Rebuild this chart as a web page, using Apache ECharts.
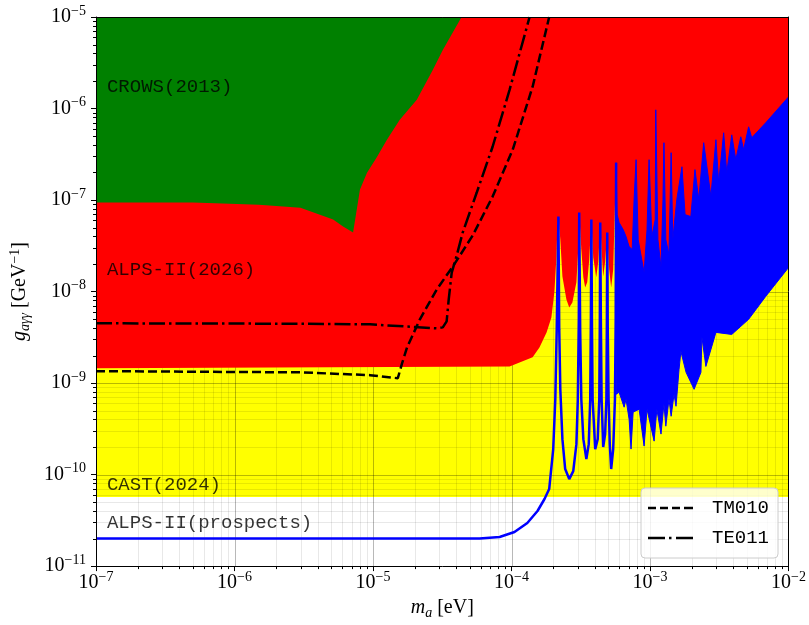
<!DOCTYPE html>
<html>
<head>
<meta charset="utf-8">
<script src="https://cdn.jsdelivr.net/npm/echarts@6.0.0/dist/echarts.min.js"></script>
<style>
html, body {margin: 0; padding: 0; background: #fff;}
#chart {width: 809px; height: 625px;}
</style>
</head>
<body>
<div id="chart"></div>
<script>
// axis ticks
var xTicks = [1e-7, 1e-6, 1e-5, 1e-4, 1e-3, 1e-2];
var yTicks = [1e-11, 1e-10, 1e-9, 1e-8, 1e-7, 1e-6, 1e-5];
var minorSteps = [2, 3, 4, 5, 6, 7, 8, 9];

// CAST(2024) limit
var castLimit = [[1e-7, 5.7e-11], [1e-2, 5.7e-11]];

// CROWS(2013) lower edge
var crowsLow = [[1e-7, 9.4e-8], [5e-7, 9.4e-8], [1.5e-6, 8.9e-8], [2.99e-6, 8.26e-8], [5.15e-6, 6.11e-8],
    [6.08e-6, 5.13e-8], [7.18e-6, 4.41e-8], [8.05e-6, 1.30e-7], [9.05e-6, 1.99e-7], [1.07e-5, 2.97e-7],
    [1.26e-5, 4.56e-7], [1.56e-5, 7.53e-7], [2.07e-5, 1.25e-6], [2.70e-5, 2.64e-6], [3.19e-5, 4.37e-6],
    [4.36e-5, 1e-5]];

// ALPS-II(2026) lower edge
var alpsLow = [[1e-7, 1.45e-9], [9.68e-5, 1.52e-9], [1.42e-4, 1.91e-9], [1.59e-4, 2.45e-9], [1.79e-4, 3.58e-9],
    [1.94e-4, 5.22e-9], [2.04e-4, 1.0e-8], [2.11e-4, 2.42e-8], [2.14e-4, 4.75e-8], [2.18e-4, 6.59e-8],
    [2.25e-4, 3.70e-8], [2.33e-4, 1.46e-8], [2.49e-4, 8.20e-9], [2.61e-4, 6.71e-9], [2.75e-4, 7.60e-9],
    [2.94e-4, 1.26e-8], [3.03e-4, 2.88e-8], [3.08e-4, 7.29e-8], [3.19e-4, 2.88e-8], [3.30e-4, 1.43e-8],
    [3.40e-4, 1.11e-8], [3.52e-4, 1.26e-8], [3.64e-4, 2.24e-8], [3.77e-4, 6.11e-8], [3.89e-4, 2.36e-8],
    [4.09e-4, 1.43e-8], [4.23e-4, 2.13e-8], [4.37e-4, 5.67e-8], [4.52e-4, 2.13e-8], [4.59e-4, 1.46e-8],
    [4.74e-4, 2.13e-8], [4.91e-4, 4.41e-8], [5.07e-4, 1.74e-8], [5.24e-4, 1.11e-8], [5.42e-4, 1.74e-8],
    [5.69e-4, 2.56e-7], [5.79e-4, 4.97e-9], [9.06e-4, 3.86e-9], [1.62e-3, 1.05e-8], [2.25e-3, 1.19e-8],
    [4.37e-3, 2.88e-8], [1e-2, 1.01e-7]];

// ALPS-II(prospects) curve, resolved resonances
var alpsProspect = [[1e-7, 2.0e-11], [5.89e-5, 2.0e-11], [8.20e-5, 2.08e-11], [1.05e-4, 2.36e-11], [1.30e-4, 2.96e-11],
    [1.54e-4, 4.0e-11], [1.73e-4, 5.41e-11], [1.87e-4, 6.95e-11], [2.00e-4, 1.90e-10], [2.07e-4, 6.65e-10],
    [2.12e-4, 3.86e-9], [2.18e-4, 6.59e-8], [2.21e-4, 3.86e-9], [2.25e-4, 8.55e-10], [2.33e-4, 2.44e-10],
    [2.44e-4, 1.15e-10], [2.61e-4, 8.93e-11], [2.79e-4, 1.09e-10], [2.94e-4, 2.15e-10], [3.01e-4, 6.65e-10],
    [3.06e-4, 4.97e-9], [3.08e-4, 7.29e-8], [3.13e-4, 3.86e-9], [3.19e-4, 6.65e-10], [3.30e-4, 2.44e-10],
    [3.47e-4, 1.48e-10], [3.61e-4, 2.15e-10], [3.70e-4, 6.65e-10], [3.74e-4, 4.97e-9], [3.77e-4, 6.11e-8],
    [3.81e-4, 3.86e-9], [3.85e-4, 6.65e-10], [4.02e-4, 1.90e-10], [4.19e-4, 2.44e-10], [4.30e-4, 6.65e-10],
    [4.34e-4, 4.97e-9], [4.37e-4, 5.67e-8], [4.42e-4, 3.86e-9], [4.47e-4, 6.65e-10], [4.59e-4, 2.0e-10],
    [4.74e-4, 2.77e-10], [4.84e-4, 6.65e-10], [4.88e-4, 4.97e-9], [4.91e-4, 4.41e-8], [4.95e-4, 3.86e-9],
    [5.02e-4, 6.65e-10], [5.12e-4, 2.15e-10], [5.24e-4, 1.15e-10], [5.42e-4, 1.90e-10], [5.58e-4, 6.65e-10],
    [5.65e-4, 4.97e-9], [5.69e-4, 2.56e-7]];

// ALPS-II(prospects), dense resonance band: upper and lower envelope
var denseTop = [[5.69e-4, 2.56e-7], [5.79e-4, 6.93e-8], [5.98e-4, 5.67e-8], [6.40e-4, 4.75e-8], [6.71e-4, 3.99e-8],
    [7.06e-4, 3.10e-8], [7.43e-4, 2.88e-8], [7.67e-4, 1.01e-7], [7.93e-4, 2.76e-7], [8.21e-4, 3.70e-8],
    [9.06e-4, 1.61e-8], [9.51e-4, 4.75e-8], [9.84e-4, 2.76e-7], [1.03e-3, 3.99e-8], [1.09e-3, 6.11e-8],
    [1.10e-3, 9.68e-7], [1.14e-3, 3.70e-8], [1.20e-3, 1.83e-8], [1.24e-3, 1.01e-7], [1.26e-3, 4.23e-7],
    [1.30e-3, 3.70e-8], [1.37e-3, 2.54e-8], [1.42e-3, 3.29e-7], [1.46e-3, 3.70e-8], [1.56e-3, 1.01e-7],
    [1.70e-3, 2.31e-7], [1.79e-3, 6.93e-8], [1.97e-3, 6.59e-8], [2.11e-3, 2.15e-7], [2.25e-3, 1.01e-7],
    [2.44e-3, 4.23e-7], [2.75e-3, 1.09e-7], [2.99e-3, 4.56e-7], [3.13e-3, 1.55e-7], [3.40e-3, 5.43e-7],
    [3.58e-3, 1.99e-7], [3.89e-3, 5.16e-7], [4.16e-3, 2.76e-7], [4.52e-3, 4.91e-7], [4.74e-3, 3.55e-7],
    [5.15e-3, 6.31e-7], [5.42e-3, 4.79e-7], [6.84e-3, 6.98e-7], [1e-2, 1.34e-6]];
var denseBottom = [[5.69e-4, 7.55e-10], [5.98e-4, 7.94e-10], [6.50e-4, 5.45e-10], [6.71e-4, 6.65e-10], [7.06e-4, 4.03e-10],
    [7.29e-4, 1.90e-10], [7.55e-4, 4.81e-10], [8.34e-4, 5.18e-10], [9.06e-4, 2.05e-10], [9.51e-4, 5.18e-10],
    [1.07e-3, 2.32e-10], [1.12e-3, 5.18e-10], [1.20e-3, 2.77e-10], [1.26e-3, 5.87e-10], [1.30e-3, 3.38e-10],
    [1.37e-3, 6.65e-10], [1.42e-3, 4.34e-10], [1.49e-3, 7.55e-10], [1.54e-3, 5.58e-10], [1.62e-3, 1.41e-9],
    [1.67e-3, 2.22e-9], [1.82e-3, 1.31e-9], [2.08e-3, 8.55e-10], [2.33e-3, 1.31e-9], [2.37e-3, 3.16e-9],
    [2.53e-3, 1.52e-9], [2.99e-3, 3.58e-9], [3.89e-3, 3.40e-9], [5.15e-3, 4.97e-9], [6.84e-3, 8.85e-9],
    [1e-2, 1.83e-8]];

// cavity modes
var tm010 = [[1e-7, 1.35e-9], [2.99e-6, 1.31e-9], [9.51e-6, 1.22e-9], [1.51e-5, 1.13e-9], [1.62e-5, 1.64e-9],
    [1.76e-5, 2.45e-9], [2.18e-5, 4.97e-9], [2.88e-5, 1.05e-8], [3.77e-5, 1.88e-8], [5.24e-5, 4.09e-8],
    [7.30e-5, 1.09e-7], [1.02e-4, 3.55e-7], [1.42e-4, 1.73e-6], [1.87e-4, 1e-5]];
var te011 = [[1e-7, 4.5e-9], [2.99e-6, 4.45e-9], [9.51e-6, 4.38e-9], [2.88e-5, 3.96e-9], [3.19e-5, 4.06e-9],
    [3.40e-5, 4.72e-9], [3.52e-5, 8.20e-9], [3.70e-5, 1.61e-8], [4.02e-5, 2.48e-8], [4.44e-5, 4.41e-8],
    [5.60e-5, 1.20e-7], [7.30e-5, 3.82e-7], [9.68e-5, 1.60e-6], [1.35e-4, 1e-5]];

var regionLabels = [
    {name: 'CROWS(2013)', value: [1.2e-7, 1.73e-6]},
    {name: 'ALPS-II(2026)', value: [1.2e-7, 1.7e-8]},
    {name: 'CAST(2024)', value: [1.2e-7, 7.7e-11]},
    {name: 'ALPS-II(prospects)', value: [1.2e-7, 2.96e-11]}
];

var xMin = xTicks[0], xMax = xTicks[xTicks.length - 1];
var yMin = yTicks[0], yMax = yTicks[yTicks.length - 1];

// grid lines (major flag in 3rd slot)
var vGrid = [], hGrid = [];
xTicks.forEach(function (d, i) {
    vGrid.push([d, yMin, 1]);
    if (i < xTicks.length - 1) minorSteps.forEach(function (m) { vGrid.push([m * d, yMin, 0]); });
});
yTicks.forEach(function (d, i) {
    hGrid.push([xMin, d, 1]);
    if (i < yTicks.length - 1) minorSteps.forEach(function (m) { hGrid.push([xMin, m * d, 0]); });
});

var serif = 'Liberation Serif';
var mono = 'Liberation Mono';

function powLabel(v) {
    var e = Math.round(Math.log10(v));
    return '{b|10}{e|' + (e < 0 ? '\u2212' : '') + Math.abs(e) + '}';
}
var powRich = {
    b: {fontFamily: serif, fontSize: 20, color: '#000', verticalAlign: 'middle'},
    e: {fontFamily: serif, fontSize: 14, color: '#000', verticalAlign: 'middle', padding: [0, 0, 12, 0]}
};

function gridItem(vertical) {
    return function (params, api) {
        var p0, p1;
        if (vertical) {
            p0 = api.coord([api.value(0), yMin]);
            p1 = api.coord([api.value(0), yMax]);
            p0[0] = p1[0] = Math.round(p0[0]) + 0.5;
        } else {
            p0 = api.coord([xMin, api.value(1)]);
            p1 = api.coord([xMax, api.value(1)]);
            p0[1] = p1[1] = Math.round(p0[1]) + 0.5;
        }
        return {type: 'line', shape: {x1: p0[0], y1: p0[1], x2: p1[0], y2: p1[1]},
            style: {stroke: api.value(2) ? 'rgba(0,0,0,0.28)' : 'rgba(0,0,0,0.09)', lineWidth: 1}};
    };
}

function minorTick(vertical) {
    return function (params, api) {
        if (api.value(2)) return null;
        var p;
        if (vertical) {
            p = api.coord([api.value(0), yMin]);
            var x = Math.round(p[0]) + 0.5;
            return {type: 'line', shape: {x1: x, y1: p[1], x2: x, y2: p[1] + 3}, style: {stroke: '#000', lineWidth: 1}};
        }
        p = api.coord([xMin, api.value(1)]);
        var y = Math.round(p[1]) + 0.5;
        return {type: 'line', shape: {x1: p[0] - 3, y1: y, x2: p[0], y2: y}, style: {stroke: '#000', lineWidth: 1}};
    };
}

var chart = echarts.init(document.getElementById('chart'));

var option = {
    animation: false,
    backgroundColor: '#fff',
    grid: {left: 95, right: 20, top: 17, bottom: 57},
    legend: {
        data: [
            {name: 'TM010', icon: 'path://M0,0h8v2.5h-8z M12,0h8v2.5h-8z M24,0h8v2.5h-8z M36,0h9v2.5h-9z'},
            {name: 'TE011', icon: 'path://M0,0h17v2.5h-17z M21,0h2.5v2.5h-2.5z M28,0h17v2.5h-17z'}
        ],
        orient: 'vertical', left: 641, top: 488, z: 20, symbolKeepAspect: false,
        padding: [10, 9, 10, 7], itemWidth: 45, itemHeight: 2.5, itemGap: 10,
        itemStyle: {color: '#000', borderWidth: 0},
        backgroundColor: 'rgba(255,255,255,0.8)', borderColor: '#cccccc', borderWidth: 1, borderRadius: 4,
        textStyle: {fontFamily: mono, fontSize: 19, color: '#000', lineHeight: 20, height: 20, padding: [0, 0, 0, 14]}
    },
    xAxis: [{
        type: 'log', logBase: 10, min: xMin, max: xMax, z: 10,
        name: '{i|m}{s|a}{n| [eV]}', nameLocation: 'middle', nameGap: 26,
        nameTextStyle: {rich: {
            i: {fontFamily: serif, fontStyle: 'italic', fontSize: 20, color: '#000'},
            s: {fontFamily: serif, fontStyle: 'italic', fontSize: 14, color: '#000', padding: [10, 0, 0, 0]},
            n: {fontFamily: serif, fontSize: 20, color: '#000'}
        }},
        axisLine: {lineStyle: {color: '#000', width: 1}},
        axisTick: {show: true, length: 5, lineStyle: {color: '#000'}},
        axisLabel: {margin: 4, formatter: powLabel, rich: powRich},
        splitLine: {show: false}
    }, {
        type: 'log', logBase: 10, min: xMin, max: xMax, position: 'top', z: 10,
        axisLine: {show: true, onZero: false, lineStyle: {color: '#000', width: 1}},
        axisTick: {show: false}, axisLabel: {show: false}, splitLine: {show: false}
    }],
    yAxis: [{
        type: 'log', logBase: 10, min: yMin, max: yMax, z: 10,
        name: '{i|g}{s|a\u03b3\u03b3}{n| [GeV}{p|\u22121}{n|]}', nameLocation: 'middle', nameGap: 64, nameRotate: 90,
        nameTextStyle: {rich: {
            i: {fontFamily: serif, fontStyle: 'italic', fontSize: 20, color: '#000'},
            s: {fontFamily: serif, fontStyle: 'italic', fontSize: 14, color: '#000', padding: [10, 0, 0, 0]},
            n: {fontFamily: serif, fontSize: 20, color: '#000'},
            p: {fontFamily: serif, fontSize: 14, color: '#000', padding: [0, 0, 10, 0]}
        }},
        axisLine: {show: true, lineStyle: {color: '#000', width: 1}},
        axisTick: {show: true, length: 5, lineStyle: {color: '#000'}},
        axisLabel: {margin: 10, formatter: powLabel, rich: powRich},
        splitLine: {show: false}
    }, {
        type: 'log', logBase: 10, min: yMin, max: yMax, position: 'right', z: 10,
        axisLine: {show: true, onZero: false, lineStyle: {color: '#000', width: 1}},
        axisTick: {show: false}, axisLabel: {show: false}, splitLine: {show: false}
    }],
    series: [
        {name: 'CAST(2024)', type: 'line', data: castLimit, symbol: 'none', silent: true, z: 1,
            lineStyle: {width: 0}, areaStyle: {color: '#ffff00', opacity: 1, origin: 'end'}},
        {type: 'custom', data: vGrid, renderItem: gridItem(true), silent: true, z: 2, clip: true},
        {type: 'custom', data: hGrid, renderItem: gridItem(false), silent: true, z: 2, clip: true},
        {name: 'ALPS-II(2026)', type: 'line', data: alpsLow, symbol: 'none', silent: true, z: 3,
            lineStyle: {width: 0}, areaStyle: {color: '#ff0000', opacity: 1, origin: 'end'}},
        {name: 'CROWS(2013)', type: 'line', data: crowsLow, symbol: 'none', silent: true, z: 4,
            lineStyle: {width: 0}, areaStyle: {color: '#008000', opacity: 1, origin: 'end'}},
        {type: 'custom', data: [denseTop[0]], silent: true, z: 5, clip: true,
            renderItem: function (params, api) {
                var pts = denseTop.concat(denseBottom.slice().reverse()).map(function (p) { return api.coord(p); });
                return {type: 'polygon', shape: {points: pts}, style: {fill: '#0000ff', stroke: '#0000ff', lineWidth: 1}};
            }},
        {name: 'ALPS-II(prospects)', type: 'line', data: alpsProspect, symbol: 'none', silent: true, z: 5,
            lineStyle: {color: '#0000ff', width: 2.5}},
        {name: 'TM010', type: 'line', data: tm010, symbol: 'none', silent: true, z: 6, color: '#000',
            lineStyle: {color: '#000', width: 2.5, type: [9, 4]}},
        {name: 'TE011', type: 'line', data: te011, symbol: 'none', silent: true, z: 6, color: '#000',
            lineStyle: {color: '#000', width: 2.5, type: [16, 4, 2.5, 4]}},
        {type: 'scatter', data: regionLabels, symbolSize: 0, silent: true, z: 7,
            itemStyle: {color: 'rgba(0,0,0,0)'},
            label: {show: true, position: 'right', distance: 0, formatter: '{b}', color: '#000',
                fontFamily: mono, fontSize: 19}},
        {type: 'custom', data: vGrid, renderItem: minorTick(true), silent: true, z: 10, clip: false},
        {type: 'custom', data: hGrid, renderItem: minorTick(false), silent: true, z: 10, clip: false}
    ]
};

chart.setOption(option);
</script>
</body>
</html>
